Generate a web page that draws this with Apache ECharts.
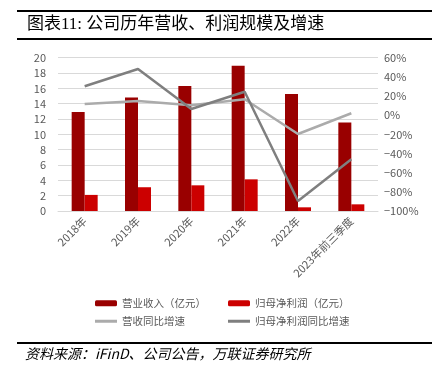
<!DOCTYPE html>
<html>
<head>
<meta charset="utf-8">
<script src="https://cdn.jsdelivr.net/npm/echarts@6/dist/echarts.min.js"></script>
<style>
  html, body { margin: 0; padding: 0; background: #fff; }
  #chart { width: 432px; height: 367px; }
</style>
</head>
<body>
<div id="chart"></div>
<script>
var categories = ["2018年", "2019年", "2020年", "2021年", "2022年", "2023年前三季度"];
var revenue = [12.9, 14.8, 16.3, 18.95, 15.25, 11.55];
var netProfit = [2.1, 3.1, 3.35, 4.13, 0.48, 0.87];
var revenueGrowth = [11.7, 14.8, 10.4, 16.6, -19.6, 2.0];
var profitGrowth = [30.2, 48.2, 6.5, 24.5, -89.6, -46.0];

var font = "'Noto Sans CJK SC', 'Microsoft YaHei', sans-serif";
var labelColor = "#595959";

var myChart = echarts.init(document.getElementById("chart"));

var legendText = {
  fontSize: 10.5,
  color: labelColor,
  fontFamily: font,
};

var option = {
  animation: false,
  textStyle: { fontFamily: font },
  graphic: [
    // 标题上下粗线
    { type: "rect", shape: { x: 17, y: 10, width: 415, height: 2 }, style: { fill: "#000" } },
    { type: "rect", shape: { x: 17, y: 38, width: 415, height: 2 }, style: { fill: "#000" } },
    {
      type: "text",
      left: 27,
      top: 16,
      style: {
        text: "图表11: 公司历年营收、利润规模及增速",
        font: "17px 'Liberation Serif', 'Noto Sans CJK SC', serif",
        fill: "#000",
      },
    },
    { type: "rect", shape: { x: 17, y: 342, width: 415, height: 2 }, style: { fill: "#000" } },
    {
      type: "text",
      left: 25,
      top: 347,
      style: {
        text: "资料来源：iFinD、公司公告，万联证券研究所",
        font: "italic 14px 'Noto Sans CJK SC', sans-serif",
        fill: "#000",
      },
    },
  ],
  grid: {
    left: 58,
    right: 54,
    top: 57.7,
    bottom: 156,
  },
  legend: [
    {
      left: 90, top: 293, itemWidth: 22, itemHeight: 6, itemGap: 0,
      textStyle: legendText, data: ["营业收入（亿元）"],
    },
    {
      left: 223, top: 293, itemWidth: 22, itemHeight: 6, itemGap: 0,
      textStyle: legendText, data: ["归母净利润（亿元）"],
    },
    {
      left: 90, top: 311, itemWidth: 22, itemHeight: 3, itemGap: 0,
      textStyle: legendText, data: [{ name: "营收同比增速", icon: "rect" }],
    },
    {
      left: 223, top: 311, itemWidth: 22, itemHeight: 3, itemGap: 0,
      textStyle: legendText, data: [{ name: "归母净利润同比增速", icon: "rect" }],
    },
  ],
  xAxis: [
    {
      type: "category",
      data: categories,
      axisTick: { show: false },
      axisLine: { lineStyle: { color: "#D9D9D9", width: 1 } },
      axisLabel: {
        rotate: 45,
        interval: 0,
        fontSize: 11,
        color: labelColor,
        margin: 8,
      },
    },
  ],
  yAxis: [
    {
      type: "value",
      min: 0,
      max: 20,
      interval: 2,
      axisLine: { show: false },
      axisTick: { show: false },
      axisLabel: { fontSize: 11, color: labelColor, margin: 12 },
      splitLine: { lineStyle: { color: "#D9D9D9", width: 1 } },
    },
    {
      type: "value",
      min: -100,
      max: 60,
      interval: 20,
      axisLine: { show: false },
      axisTick: { show: false },
      axisLabel: {
        fontSize: 11,
        color: labelColor,
        margin: 6,
        formatter: function (v) {
          return (v < 0 ? "−" + Math.abs(v) : v) + "%";
        },
      },
      splitLine: { show: false },
    },
  ],
  series: [
    {
      name: "营业收入（亿元）",
      type: "bar",
      barWidth: 13,
      barGap: 0,
      itemStyle: { color: "#990000" },
      data: revenue,
    },
    {
      name: "归母净利润（亿元）",
      type: "bar",
      barWidth: 13,
      itemStyle: { color: "#CC0000" },
      data: netProfit,
    },
    {
      name: "营收同比增速",
      type: "line",
      yAxisIndex: 1,
      symbol: "none",
      lineStyle: { color: "#ABABAB", width: 2.5 },
      itemStyle: { color: "#ABABAB" },
      data: revenueGrowth,
    },
    {
      name: "归母净利润同比增速",
      type: "line",
      yAxisIndex: 1,
      symbol: "none",
      lineStyle: { color: "#7F7F7F", width: 2.5 },
      itemStyle: { color: "#7F7F7F" },
      data: profitGrowth,
    },
  ],
};

myChart.setOption(option);
</script>
</body>
</html>
